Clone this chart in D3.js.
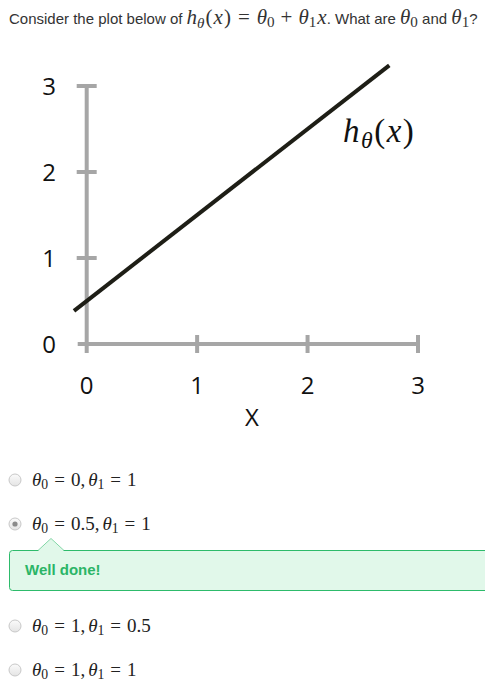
<!DOCTYPE html>
<html><head><meta charset="utf-8">
<script src="https://cdn.jsdelivr.net/npm/d3@7"></script>
<style>html,body{margin:0;padding:0;background:#fff;}</style>
</head><body>
<script>
// ---- data ----
const xTicks = [0, 1, 2, 3];
const yTicks = [0, 1, 2, 3];
const theta0 = 0.5;
const theta1 = 1;
const lineXRange = [-0.115, 2.74];
const optionLabels = [
  {t0: "0", t1: "1"},
  {t0: "0.5", t1: "1"},
  {t0: "1", t1: "0.5"},
  {t0: "1", t1: "1"}
];
const selectedIndex = 1;
const feedbackText = "Well done!";

// ---- drawing ----
const W = 485, H = 687;
const svg = d3.select("body").append("svg").attr("width", W).attr("height", H);
const sans = "Arial, 'Liberation Sans', sans-serif";
const mserif = "'Liberation Serif','Times New Roman',serif";

// segs: [text, style, dx]
function richText(g, x, y, segs, size, color, sansSize) {
  const t = g.append("text").attr("x", x).attr("y", y).attr("fill", color)
    .style("font-size", size + "px");
  let shift = 0;
  segs.forEach(([s, st, dx]) => {
    const ts = t.append("tspan").text(s);
    let want = 0;
    if (st === "n") { ts.style("font-family", sans).style("font-size", (sansSize || 13) + "px"); }
    else if (st === "i") { ts.style("font-family", mserif).style("font-style", "italic"); }
    else if (st === "r") { ts.style("font-family", mserif); }
    else if (st === "s") { ts.style("font-family", mserif).style("font-size", (size * 0.72) + "px"); want = size * 0.16; }
    else if (st === "si") { ts.style("font-family", mserif).style("font-style", "italic").style("font-size", (size * 0.72) + "px"); want = size * 0.18; }
    if (want !== shift) { ts.attr("dy", want - shift); shift = want; }
    if (dx) ts.attr("dx", dx);
  });
  return t;
}

// title
richText(svg, 9, 24, [
  ["Consider the plot below of ", "n"],
  ["h", "i"], ["θ", "si"], ["(", "r", 1], ["x", "i", 1], [")", "r", 1],
  ["=", "r", 7], ["θ", "i", 7], ["0", "s"], ["+", "r", 6], ["θ", "i", 6], ["1", "s"], ["x", "i", 1],
  [". What are ", "n"], ["θ", "i"], ["0", "s"], [" and ", "n"], ["θ", "i"], ["1", "s"], ["?", "n"]
], 21, "#333", 15);

// plot
const x = d3.scaleLinear().domain([0, 3]).range([86.7, 418]);
const y = d3.scaleLinear().domain([0, 3]).range([344, 86]);
const gray = "#a6a6a6";
const plot = svg.append("g");
const axisFont = "'Open Sans', 'Liberation Sans', sans-serif";

// y axis line
plot.append("line").attr("x1", x(0)).attr("x2", x(0)).attr("y1", y(3)).attr("y2", y(0) + 9)
  .attr("stroke", gray).attr("stroke-width", 4);
// x axis line
plot.append("line").attr("x1", x(0) - 9).attr("x2", x(3)).attr("y1", y(0)).attr("y2", y(0))
  .attr("stroke", gray).attr("stroke-width", 4);
// y ticks
plot.selectAll(".yt").data(yTicks.filter(d => d > 0)).enter().append("line")
  .attr("x1", x(0) - 10).attr("x2", x(0) + 10).attr("y1", d => y(d)).attr("y2", d => y(d))
  .attr("stroke", gray).attr("stroke-width", 4);
// x ticks
plot.selectAll(".xt").data(xTicks.filter(d => d > 0)).enter().append("line")
  .attr("x1", d => x(d)).attr("x2", d => x(d)).attr("y1", y(0) - 9).attr("y2", y(0) + 9)
  .attr("stroke", gray).attr("stroke-width", 4);
// tick labels
plot.selectAll(".yl").data(yTicks).enter().append("text")
  .attr("x", 49).attr("y", d => y(d) + 8.5).attr("text-anchor", "middle")
  .style("font-family", axisFont).style("font-size", "24px").attr("fill", "#111").text(d => d);
plot.selectAll(".xl").data(xTicks).enter().append("text")
  .attr("x", d => x(d)).attr("y", 394).attr("text-anchor", "middle")
  .style("font-family", axisFont).style("font-size", "24px").attr("fill", "#111").text(d => d);
plot.append("text").attr("x", 252).attr("y", 426).attr("text-anchor", "middle")
  .style("font-family", axisFont).style("font-size", "24px").attr("fill", "#111").text("X");

// hypothesis line
const line = d3.line().x(d => x(d)).y(d => y(theta0 + theta1 * d));
plot.append("path").datum(lineXRange).attr("d", line)
  .attr("stroke", "#1e1e16").attr("stroke-width", 4).attr("fill", "none");
richText(plot, 343, 142, [["h", "i"], ["θ", "si"], ["(", "r"], ["x", "i"], [")", "r"]], 33, "#111")
  .style("letter-spacing", "1.5px");

// options
const optY = [480, 524, 626, 670];
const defs = svg.append("defs");
const grad = defs.append("linearGradient").attr("id", "rg").attr("x1", 0).attr("y1", 0).attr("x2", 0).attr("y2", 1);
grad.append("stop").attr("offset", "0%").attr("stop-color", "#fbfbfb");
grad.append("stop").attr("offset", "100%").attr("stop-color", "#e4e4e4");

optionLabels.forEach((o, i) => {
  const g = svg.append("g");
  g.append("circle").attr("cx", 15).attr("cy", optY[i]).attr("r", 6)
    .attr("fill", "url(#rg)").attr("stroke", "#c8c8c8").attr("stroke-width", 1);
  if (i === selectedIndex) {
    g.append("circle").attr("cx", 15).attr("cy", optY[i]).attr("r", 2.6).attr("fill", "#8a8a8a");
  }
  richText(g, 32, optY[i] + 6, [
    ["θ", "i"], ["0", "s"], ["=", "r", 6], [o.t0 + ",", "r", 6], ["θ", "i", 3], ["1", "s"],
    ["=", "r", 6], [o.t1, "r", 6]
  ], 19, "#222");
});

// feedback box
const fb = svg.append("g");
fb.append("rect").attr("x", 9.5).attr("y", 550.5).attr("width", 490).attr("height", 40).attr("rx", 3)
  .attr("fill", "#e1f8ea").attr("stroke", "#2dbb6b").attr("stroke-width", 1);
fb.append("path").attr("d", "M38,551 L51,539 L64,551 Z").attr("fill", "#e1f8ea");
fb.append("path").attr("d", "M38,550.5 L51,538.5 L64,550.5").attr("fill", "none").attr("stroke", "#7fd6a4").attr("stroke-width", 1);
fb.append("text").attr("x", 25).attr("y", 575).style("font-family", sans).style("font-size", "15px")
  .style("font-weight", "bold").attr("fill", "#2bb567").text(feedbackText);
</script>
</body></html>
